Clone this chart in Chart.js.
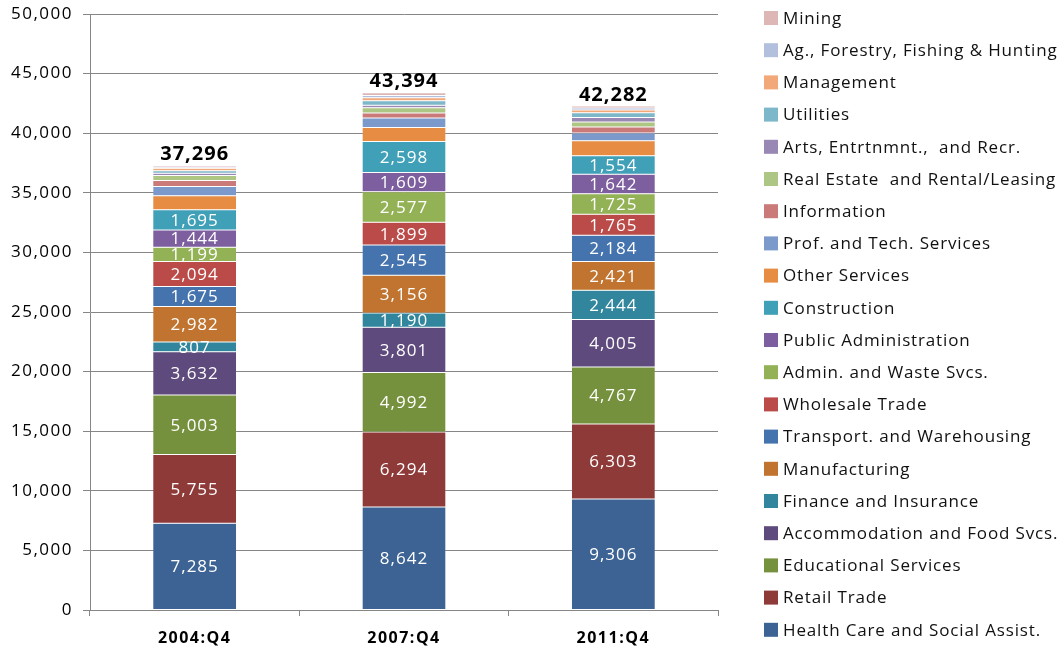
<!DOCTYPE html>
<html><head><meta charset="utf-8">
<script src="https://cdn.jsdelivr.net/npm/chart.js@4/dist/chart.umd.min.js"></script>
<style>html,body{margin:0;padding:0;background:#fff}canvas{display:block}</style>
</head><body>
<canvas id="c" width="1063" height="651"></canvas>
<script>
const categories = ['2004:Q4', '2007:Q4', '2011:Q4'];
const yTicks = [0, 5000, 10000, 15000, 20000, 25000, 30000, 35000, 40000, 45000, 50000];
const totals = [37296, 43394, 42282];

// series, bottom of stack to top
const healthCare     = [7285, 8642, 9306];
const retailTrade    = [5755, 6294, 6303];
const educational    = [5003, 4992, 4767];
const accommodation  = [3632, 3801, 4005];
const finance        = [807, 1190, 2444];
const manufacturing  = [2982, 3156, 2421];
const transport      = [1675, 2545, 2184];
const wholesale      = [2094, 1899, 1765];
const adminWaste     = [1199, 2577, 1725];
const publicAdmin    = [1444, 1609, 1642];
const construction   = [1695, 2598, 1554];
const otherServices  = [1180, 1180, 1260];
const profTech       = [780, 790, 650];
const information    = [500, 420, 500];
const realEstate     = [420, 450, 420];
const arts           = [180, 200, 380];
const utilities      = [220, 380, 380];
const management     = [200, 250, 250];
const agForestry     = [120, 190, 160];
const mining         = [125, 231, 166];

const seriesNames = ['Health Care and Social Assist.', 'Retail Trade', 'Educational Services',
  'Accommodation and Food Svcs.', 'Finance and Insurance', 'Manufacturing',
  'Transport. and Warehousing', 'Wholesale Trade', 'Admin. and Waste Svcs.',
  'Public Administration', 'Construction', 'Other Services', 'Prof. and Tech. Services',
  'Information', 'Real Estate  and Rental/Leasing', 'Arts, Entrtnmnt.,  and Recr.',
  'Utilities', 'Management', 'Ag., Forestry, Fishing & Hunting', 'Mining'];
const seriesValues = [healthCare, retailTrade, educational, accommodation, finance, manufacturing,
  transport, wholesale, adminWaste, publicAdmin, construction, otherServices, profTech,
  information, realEstate, arts, utilities, management, agForestry, mining];
const seriesColors = ['#3C6393', '#8E3A38', '#76913E', '#5E4A7C', '#31859C', '#C0742F',
  '#4573AE', '#BA4B48', '#93B256', '#7D5F9F', '#40A0B8', '#E68C43', '#7B99CB',
  '#C97A79', '#AEC684', '#9A88B4', '#7CB7CA', '#F2A878', '#B3C0DD', '#DDB6B6'];
const labeledSeriesCount = 11;

const FONT = '"Open Sans", Lato, sans-serif';
const fmt = v => v.toLocaleString('en-US');

const datasets = seriesNames.map((name, i) => ({
  label: name,
  data: seriesValues[i],
  backgroundColor: seriesColors[i],
  borderColor: 'rgba(255,255,255,0.35)',
  borderWidth: 0.5,
  borderSkipped: false,
  barPercentage: 0.4,
  categoryPercentage: 1.0
}));

const spacingPlugin = {
  id: 'spacing',
  beforeDraw(chart) { chart.ctx.letterSpacing = '1.5px'; }
};

const labelsPlugin = {
  id: 'segLabels',
  afterDatasetsDraw(chart) {
    const ctx = chart.ctx;
    ctx.save();
    ctx.letterSpacing = '1px';
    ctx.textAlign = 'center';
    ctx.textBaseline = 'middle';
    ctx.fillStyle = '#ffffff';
    ctx.font = '17px ' + FONT;
    for (let d = 0; d < labeledSeriesCount; d++) {
      const meta = chart.getDatasetMeta(d);
      meta.data.forEach((bar, j) => {
        const v = chart.data.datasets[d].data[j];
        ctx.fillText(fmt(v), bar.x, (bar.y + bar.base) / 2 + 1);
      });
    }
    // totals
    const topMeta = chart.getDatasetMeta(chart.data.datasets.length - 1);
    ctx.fillStyle = '#000000';
    ctx.font = 'bold 20px ' + FONT;
    ctx.textBaseline = 'bottom';
    topMeta.data.forEach((bar, j) => {
      ctx.fillText(fmt(totals[j]), bar.x, bar.y - 1);
    });
    ctx.restore();
  }
};

const legendPlugin = {
  id: 'sideLegend',
  afterDraw(chart) {
    const ctx = chart.ctx;
    const ds = chart.data.datasets;
    ctx.save();
    ctx.letterSpacing = '0.85px';
    ctx.textAlign = 'left';
    ctx.textBaseline = 'middle';
    ctx.font = '17px ' + FONT;
    const n = ds.length;
    for (let k = 0; k < n; k++) {
      const d = ds[n - 1 - k];
      const cy = 18 + k * 32.2;
      ctx.fillStyle = d.backgroundColor;
      ctx.fillRect(764, cy - 7, 14, 14);
      ctx.fillStyle = '#111';
      ctx.fillText(d.label, 783, cy + 1);
    }
    ctx.restore();
  }
};

new Chart(document.getElementById('c'), {
  type: 'bar',
  data: { labels: categories, datasets },
  options: {
    responsive: false,
    animation: false,
    layout: { padding: { top: 14, right: 345, bottom: 0, left: 0 } },
    plugins: { legend: { display: false }, tooltip: { enabled: false } },
    scales: {
      x: {
        stacked: true,
        grid: { display: true, drawOnChartArea: false, color: '#868686', tickLength: 6, offset: true },
        border: { color: '#868686', width: 1 },
        ticks: { color: '#000', font: { family: FONT, size: 16, weight: 'bold' }, padding: 13 },
        afterFit(s) { s.height = 41; s.paddingLeft = 0; s.paddingRight = 0; }
      },
      y: {
        stacked: true,
        min: 0, max: 50000,
        afterBuildTicks(s) { s.ticks = yTicks.map(v => ({ value: v })); },
        grid: { color: '#868686', tickLength: 7, lineWidth: 1 },
        border: { color: '#868686', width: 1 },
        ticks: { color: '#000', font: { family: FONT, size: 17 }, padding: 10, callback: v => fmt(v) },
        afterFit(s) { s.width = 90; s.paddingTop = 0; s.paddingBottom = 0; }
      }
    }
  },
  plugins: [spacingPlugin, labelsPlugin, legendPlugin]
});
</script>
</body></html>
